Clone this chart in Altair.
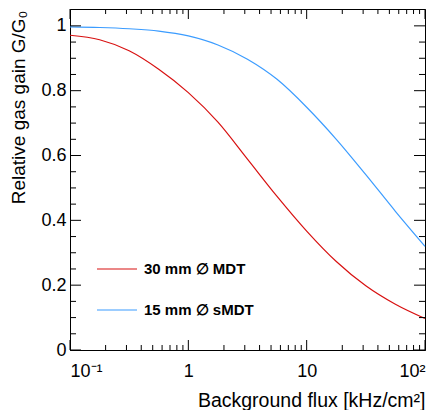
import altair as alt
import pandas as pd

# Background flux values (kHz/cm^2) where the curves were read (quarter decades)
flux = [0.1, 0.178, 0.316, 0.562, 1, 1.78, 3.16, 5.62, 10, 17.8, 31.6, 56.2, 100]
# Relative gas gain G/G0
mdt_30mm = [0.971, 0.957, 0.923, 0.866, 0.794, 0.703, 0.589, 0.474, 0.367, 0.273, 0.198, 0.141, 0.097]
smdt_15mm = [0.997, 0.995, 0.991, 0.984, 0.969, 0.941, 0.897, 0.835, 0.749, 0.650, 0.541, 0.428, 0.320]
series_names = ["30 mm  \u2205 MDT", "15 mm  \u2205 sMDT"]
series_colors = ["#d81010", "#3b9cff"]

# axis ticks
x_major = [0.1, 1, 10, 100]
x_minor = [round(m * d, 3) for d in (0.1, 1, 10) for m in range(2, 10)]
y_major = [0, 0.2, 0.4, 0.6, 0.8, 1.0]
y_minor = [round(0.05 * i, 2) for i in range(1, 21) if i % 4 != 0]

W, H = 355, 341

df = pd.DataFrame(
    {"flux": flux * 2,
     "gain": mdt_30mm + smdt_15mm,
     "series": [series_names[0]] * len(flux) + [series_names[1]] * len(flux)}
)

xscale = alt.Scale(type="log", domain=[0.1, 100], nice=False)
yscale = alt.Scale(domain=[0, 1.052], nice=False, zero=False)

x_label_expr = ("datum.value < 0.5 ? '10\u207b\u00b9' : datum.value < 5 ? '1' : "
                "datum.value < 50 ? '10' : '10\u00b2'")

x_axis = alt.Axis(values=x_major, labelExpr=x_label_expr, ticks=False, tickSize=0,
                  grid=False, labelPadding=12, labelFontSize=18,
                  title="Background flux [kHz/cm\u00b2]", titleFontSize=19.5,
                  titleFontWeight="normal", titleAnchor="end", titleAlign="right",
                  titleX=W, titleY=56, titleBaseline="alphabetic")
y_axis = alt.Axis(values=y_major,
                  labelExpr="datum.value == 0 ? '0' : datum.value == 1 ? '1' : format(datum.value, '.1f')",
                  ticks=False, tickSize=0, grid=False, labelPadding=4, labelFontSize=18,
                  title="Relative gas gain G/G\u2080", titleFontSize=19,
                  titleFontWeight="normal", titleAngle=270, titleAlign="right",
                  titleX=-46, titleY=1, titleBaseline="alphabetic")

lines = alt.Chart(df).mark_line(strokeWidth=1.2, interpolate="monotone").encode(
    x=alt.X("flux:Q", scale=xscale, axis=x_axis),
    y=alt.Y("gain:Q", scale=yscale, axis=y_axis),
    color=alt.Color("series:N",
                    scale=alt.Scale(domain=series_names, range=series_colors),
                    legend=alt.Legend(title=None, orient="none", legendX=26, legendY=239,
                                      symbolType="stroke", symbolSize=1600,
                                      symbolStrokeWidth=1.2, labelFontSize=15,
                                      labelFontWeight="bold", labelOffset=6,
                                      rowPadding=12, padding=0, labelColor="black")),
)


def yticks(vals, length, right):
    d = pd.DataFrame({"gain": vals})
    x0, x1 = (W - length, W) if right else (0, length)
    return alt.Chart(d).mark_rule(color="black", strokeWidth=1).encode(
        y=alt.Y("gain:Q", scale=yscale, axis=y_axis),
        x=alt.value(x0), x2=alt.value(x1))


def xticks(vals, length, top):
    d = pd.DataFrame({"flux": vals})
    y0, y1 = (0, length) if top else (H - length, H)
    return alt.Chart(d).mark_rule(color="black", strokeWidth=1).encode(
        x=alt.X("flux:Q", scale=xscale, axis=x_axis),
        y=alt.value(y0), y2=alt.value(y1))


chart = alt.layer(
    lines,
    yticks(y_major, 11, False), yticks(y_minor, 6, False),
    yticks(y_major, 11, True), yticks(y_minor, 6, True),
    xticks(x_major, 10, False), xticks(x_minor, 5, False),
    xticks(x_major, 10, True), xticks(x_minor, 5, True),
).properties(
    width=W, height=H,
    autosize=alt.AutoSizeParams(type="none"),
    padding={"left": 62, "top": 1, "right": 7, "bottom": 60},
).configure(
    font="Liberation Sans",
).configure_view(
    stroke="black", strokeWidth=1,
).configure_axis(
    domainColor="black", domainWidth=1, labelColor="black", titleColor="black",
    labelFont="Liberation Sans", titleFont="Liberation Sans",
).configure_legend(
    labelFont="Liberation Sans",
)

chart.save("out.html", embed_options={"renderer": "svg", "actions": False})
